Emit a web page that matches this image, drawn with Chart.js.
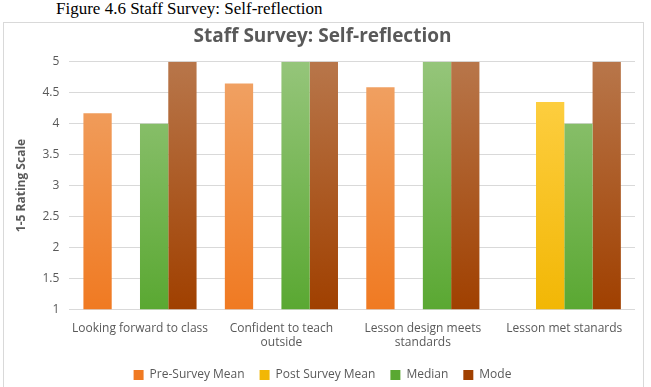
<!DOCTYPE html>
<html>
<head>
<meta charset="utf-8">
<script src="https://cdn.jsdelivr.net/npm/chart.js@4"></script>
<style>
    body { margin: 0; background: #fff; width: 651px; height: 387px; overflow: hidden; position: relative; }
    #legenda { position: absolute; left: 56px; top: -1px; font-family: "Liberation Serif", "Times New Roman", serif; font-size: 17px; color: #000; }
    #moldura { position: absolute; left: 3px; top: 22px; width: 639px; height: 370px; border: 1px solid #d9d9d9; }
    #central { position: absolute; left: 4px; top: 23px; width: 639px; height: 368px; }
</style>
</head>
<body>
<div id="legenda">Figure 4.6 Staff Survey: Self-reflection</div>
<div id="moldura"></div>
<div id="central"><canvas id="grafico"></canvas></div>
<script>
const categorias = [
    "Looking forward to class",
    ["Confident to teach", "outside"],
    ["Lesson design meets", "standards"],
    "Lesson met stanards"
];
const preMedia = [4.17, 4.65, 4.59, null];
const posMedia = [null, null, null, 4.35];
const mediana = [4, 5, 5, 4];
const moda = [5, 5, 5, 5];
const ticksY = [1, 1.5, 2, 2.5, 3, 3.5, 4, 4.5, 5];

const cinza = "#595959";

function gradiente(context, topo, base) {
    const { ctx, chartArea } = context.chart;
    if (!chartArea) return base;
    const g = ctx.createLinearGradient(0, chartArea.top, 0, chartArea.bottom);
    g.addColorStop(0, topo);
    g.addColorStop(1, base);
    return g;
}

const ctx = document.getElementById('grafico').getContext('2d');

const chart = new Chart(ctx, {
    type: 'bar',
    data: {
        labels: categorias,
        datasets: [
            { label: 'Pre-Survey Mean', data: preMedia, backgroundColor: (c) => gradiente(c, '#f0a468', '#f07a22') },
            { label: 'Post Survey Mean', data: posMedia, backgroundColor: (c) => gradiente(c, '#ffd24a', '#f2b705') },
            { label: 'Median', data: mediana, backgroundColor: (c) => gradiente(c, '#95c57a', '#5aa832') },
            { label: 'Mode', data: moda, backgroundColor: (c) => gradiente(c, '#b8764a', '#a04000') }
        ]
    },
    options: {
        responsive: true,
        maintainAspectRatio: false,
        animation: false,
        datasets: {
            bar: { categoryPercentage: 0.8, barPercentage: 1 }
        },
        layout: { padding: { left: 6, right: 8, top: 2, bottom: 0 } },
        scales: {
            x: {
                grid: { display: false },
                border: { display: false },
                ticks: {
                    color: cinza,
                    font: { family: 'Open Sans', size: 12 },
                    maxRotation: 0,
                    autoSkip: false,
                    padding: 4
                }
            },
            y: {
                min: 1,
                max: 5,
                afterBuildTicks: (axis) => { axis.ticks = ticksY.map(v => ({ value: v })); },
                grid: { color: '#d9d9d9', drawTicks: false },
                border: { display: false },
                ticks: {
                    color: cinza,
                    font: { family: 'Open Sans', size: 12 },
                    callback: (v) => String(v),
                    padding: 10
                },
                title: {
                    display: true,
                    text: '1-5 Rating Scale',
                    color: cinza,
                    font: { family: 'Open Sans', size: 12, weight: 'bold' },
                    padding: 4
                }
            }
        },
        plugins: {
            title: {
                display: true,
                text: 'Staff Survey: Self-reflection',
                color: cinza,
                font: { family: 'Open Sans', size: 19, weight: 'bold' },
                padding: { top: 0, bottom: 14 }
            },
            legend: {
                position: 'bottom',
                labels: {
                    color: cinza,
                    font: { family: 'Open Sans', size: 12 },
                    boxWidth: 10,
                    boxHeight: 10,
                    padding: 15
                }
            },
            tooltip: { enabled: false }
        }
    }
});
</script>
</body>
</html>
